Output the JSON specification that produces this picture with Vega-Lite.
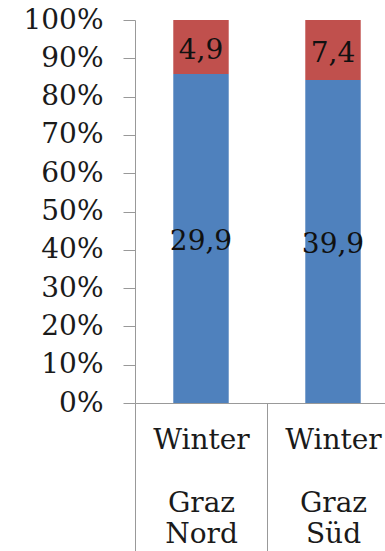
{
  "$schema": "https://vega.github.io/schema/vega-lite/v6.json",
  "width": 264,
  "height": 383,
  "autosize": {"type": "none"},
  "padding": {"left": 135, "top": 20, "right": 0, "bottom": 148},
  "background": "white",
  "config": {
    "locale": {"number": {"decimal": ",", "thousands": ".", "grouping": [3], "currency": ["", " €"]}},
    "view": {"stroke": null},
    "font": "DejaVu Serif",
    "axis": {"labelFont": "DejaVu Serif"},
    "text": {"font": "DejaVu Serif"}
  },
  "data": {
    "values": [
      {"cat": "Winter|\u200b|Graz|Nord", "series": "Blau", "order": 1, "value": 29.9},
      {"cat": "Winter|\u200b|Graz|Nord", "series": "Rot", "order": 2, "value": 4.9},
      {"cat": "Winter|\u200b|Graz|Süd", "series": "Blau", "order": 1, "value": 39.9},
      {"cat": "Winter|\u200b|Graz|Süd", "series": "Rot", "order": 2, "value": 7.4}
    ]
  },
  "transform": [
    {"stack": "value", "groupby": ["cat"], "sort": [{"field": "order"}], "offset": "normalize", "as": ["y0", "y1"]},
    {"calculate": "(datum.y0 + datum.y1) / 2", "as": "ymid"}
  ],
  "encoding": {
    "x": {
      "field": "cat",
      "type": "nominal",
      "sort": null,
      "scale": {"paddingInner": 0, "paddingOuter": 0},
      "axis": {
        "title": null,
        "labelAngle": 0,
        "tickBand": "extent",
        "tickSize": 148,
        "tickColor": "#999999",
        "domainColor": "#999999",
        "labelFont": "DejaVu Serif",
        "labelFontSize": 28,
        "labelLineHeight": 31.5,
        "labelColor": "#1a1a1a",
        "labelPadding": -125,
        "labelBaseline": "top",
        "labelOverlap": false,
        "labelBound": false,
        "labelExpr": "datum.value ? split(datum.value, '|') : ''"
      }
    }
  },
  "layer": [
    {
      "mark": {"type": "bar", "width": {"band": 0.42}},
      "encoding": {
        "y": {
          "field": "y0",
          "type": "quantitative",
          "scale": {"domain": [0, 1]},
          "axis": {
            "title": null,
            "format": ".0%",
            "values": [0, 0.1, 0.2, 0.3, 0.4, 0.5, 0.6, 0.7, 0.8, 0.9, 1],
            "grid": false,
            "labelFont": "DejaVu Serif",
            "labelFontSize": 28,
            "labelColor": "#1a1a1a",
            "labelPadding": 20,
            "labelOverlap": false,
            "labelFlush": false,
            "tickSize": 12,
            "tickColor": "#999999",
            "domainColor": "#999999"
          }
        },
        "y2": {"field": "y1"},
        "color": {"field": "series", "type": "nominal", "scale": {"domain": ["Blau", "Rot"], "range": ["#4F81BD", "#C0504D"]}, "legend": null}
      }
    },
    {
      "mark": {"type": "text", "font": "DejaVu Serif", "fontSize": 28, "color": "#111111", "dy": 4},
      "encoding": {
        "y": {
          "field": "ymid",
          "type": "quantitative",
          "axis": {
            "title": null,
            "format": ".0%",
            "values": [0, 0.1, 0.2, 0.3, 0.4, 0.5, 0.6, 0.7, 0.8, 0.9, 1],
            "grid": false,
            "labelFont": "DejaVu Serif",
            "labelFontSize": 28,
            "labelColor": "#1a1a1a",
            "labelPadding": 20,
            "labelOverlap": false,
            "labelFlush": false,
            "tickSize": 12,
            "tickColor": "#999999",
            "domainColor": "#999999"
          }
        },
        "text": {"field": "value", "type": "quantitative", "format": ".1f"}
      }
    }
  ]
}
